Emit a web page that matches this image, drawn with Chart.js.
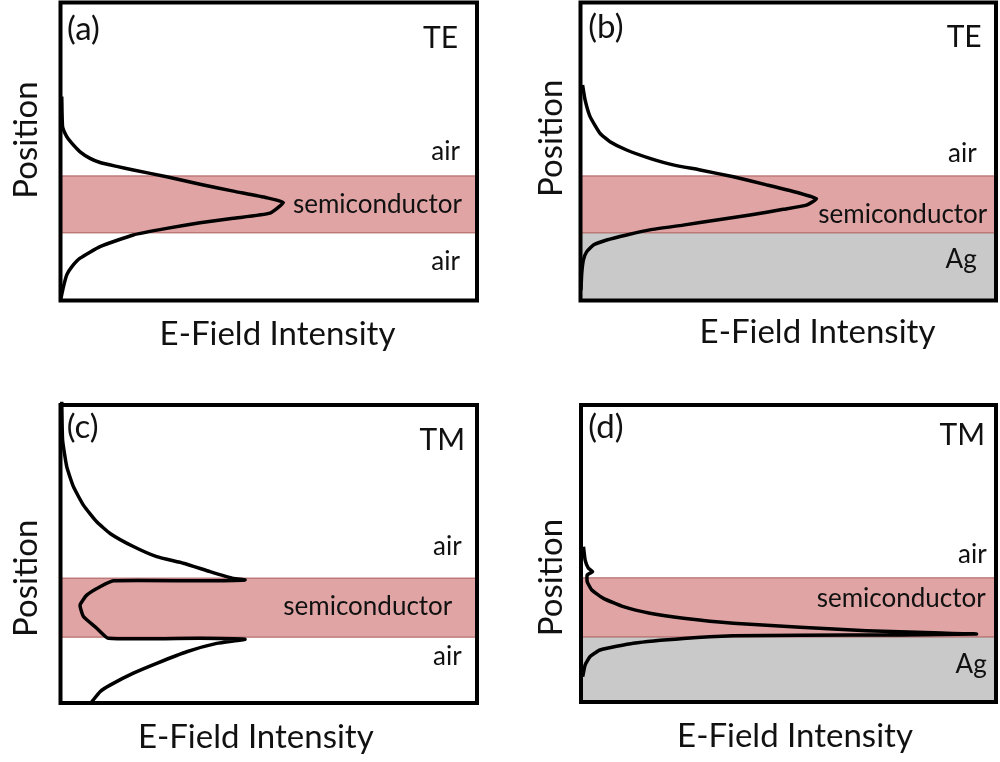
<!DOCTYPE html>
<html>
<head>
<meta charset="utf-8">
<title>E-field profiles</title>
<script src="https://cdn.jsdelivr.net/npm/chart.js@4/dist/chart.umd.min.js"></script>
<style>
  html, body { margin: 0; padding: 0; background: #fff; }
  #wrap { position: relative; width: 1000px; height: 762px; overflow: hidden; }
  #wrap canvas { position: absolute; }
</style>
</head>
<body>
<div id="wrap">
  <canvas id="pa" width="500" height="381" style="left:0;top:0"></canvas>
  <canvas id="pb" width="500" height="381" style="left:500px;top:0"></canvas>
  <canvas id="pc" width="500" height="381" style="left:0;top:381px"></canvas>
  <canvas id="pd" width="500" height="381" style="left:500px;top:381px"></canvas>
</div>
<script>
// ---- Data: position (0 = bottom of stack, 100 = top) vs. relative field intensity ----

// (a) TE, semiconductor slab in air
const posA = [68.4, 58.3, 55.0, 52.8, 49.9, 47.7, 46.3, 45.0, 43.8, 41.5, 39.0, 36.7, 34.5, 32.9,
              29.3, 27.6, 26.1, 24.2, 22.0, 18.1, 14.2, 11.3, 8.6, 4.6, 0.7];
const intA = [0.3, 0.5, 1.5, 2.7, 4.7, 7.1, 9.5, 13.5, 17.5, 25.5, 33.5, 41.5, 49.5, 53.5,
              50.3, 41.5, 33.5, 25.5, 17.5, 9.5, 4.7, 2.7, 1.5, 0.7, 0.1];

// (b) TE, semiconductor slab on Ag
const posB = [72.3, 67.3, 61.7, 56.1, 53.3, 50.5, 47.7, 45.5, 43.8, 41.5, 38.8, 36.0, 34.1,
              32.0, 30.6, 28.7, 27.0, 25.3, 23.7, 22.0, 20.3, 18.6, 16.4, 13.6, 9.1, 3.5];
const intB = [0.5, 1.1, 2.3, 4.7, 7.1, 11.1, 16.7, 22.3, 28.8, 36.8, 44.8, 52.8, 56.8,
              54.4, 48.8, 40.8, 32.8, 24.7, 16.7, 11.1, 6.3, 3.1, 1.5, 0.7, 0.3, 0.1];

// (c) TM, semiconductor slab in air
const posC = [101.1, 88.3, 79.3, 72.6, 66.4, 60.8, 56.9, 52.5, 49.1, 46.9, 44.1, 41.8, 41.3,
              41.0, 41.0, 39.0, 36.2, 32.9, 29.0, 25.1, 21.7, 21.7, 21.4,
              20.0, 17.2, 13.3, 10.0, 6.0, 3.8, 0.4];
const intC = [0.3, 0.5, 1.5, 3.1, 5.5, 8.7, 11.9, 17.5, 23.1, 29.5, 35.9, 41.5, 44.3,
              33.5, 12.7, 9.5, 6.3, 4.7, 5.5, 8.7, 11.5, 33.5, 44.3,
              37.5, 30.3, 23.1, 17.5, 11.9, 9.5, 7.5];

// (d) TM, semiconductor slab on Ag (surface plasmon at the metal interface)
const posD = [52.3, 47.8, 45.0, 43.9, 42.8, 40.5, 37.7, 34.9, 32.1, 29.9, 28.2, 26.5, 25.2,
              24.0, 23.3, 22.9, 22.6, 22.5, 22.3, 21.4, 19.8, 17.5, 15.3, 12.5, 8.5];
const intD = [0.6, 1.0, 1.8, 2.8, 1.5, 1.5, 2.6, 5.4, 10.2, 16.6, 24.7, 36.7, 52.8,
              68.8, 84.9, 95.3, 76.9, 52.8, 36.7, 24.7, 12.6, 4.6, 2.2, 1.0, 0.4];

// Layer stacks (bottom to top) and their boundaries in position units
const stackAir = ['air', 'semiconductor', 'air'];
const stackAg  = ['Ag', 'semiconductor', 'air'];
const boundsA = [0, 22.7, 41.8, 100];
const boundsB = [0, 22.7, 41.8, 100];
const boundsC = [0, 22.1, 41.9, 100];
const boundsD = [0, 21.9, 41.8, 100];

const panelTags = ['(a)', '(b)', '(c)', '(d)'];
const modeNames = ['TE', 'TE', 'TM', 'TM'];
const xTitle = 'E-Field Intensity';
const yTitle = 'Position';

// ---- Styling ----
const FONT = 'Lato, "Open Sans", sans-serif';
const TEXT = '#111111';
const layerFill = { air: null, semiconductor: '#e0a4a4', Ag: '#c9c9c9' };
const layerEdge = { semiconductor: '#a85a5a' };

// Per-panel layout in canvas pixels
const LAYOUT = [
  { pad: { left: 60.5, top: 2.5, right: 23, bottom: 80.5 },
    tag: [67, 40], mode: [458, 48],
    regions: [[460, 270, 'right'], [293, 213, 'left'], [460, 160, 'right']],
    yt: [36.7, 140], xt: [277.5, 345] },
  { pad: { left: 80.5, top: 2.5, right: 4, bottom: 80.5 },
    tag: [88.3, 38], mode: [481.7, 46.7],
    regions: [[476.7, 268.3, 'right'], [318.3, 223.3, 'left'], [476.7, 161.7, 'right']],
    yt: [61.7, 138.3], xt: [317.5, 343.3] },
  { pad: { left: 60.5, top: 24, right: 23, bottom: 59 },
    tag: [66.7, 57], mode: [465, 69],
    regions: [[461.7, 284, 'right'], [283.3, 234, 'left'], [461.7, 174, 'right']],
    yt: [36.7, 197.3], xt: [255.8, 367.3] },
  { pad: { left: 81, top: 24, right: 4, bottom: 60 },
    tag: [88.3, 57], mode: [485, 64],
    regions: [[486.7, 292.3, 'right'], [316.7, 225.7, 'left'], [486.7, 182.3, 'right']],
    yt: [61.7, 196.5], xt: [295, 365.7] }
];

// Layer bands, frame and labels for one panel
const panelDecor = {
  id: 'panelDecor',
  beforeDatasetsDraw(chart, args, o) {
    const { ctx, chartArea: a, scales: { y } } = chart;
    ctx.save();
    o.stack.forEach((name, i) => {
      const fill = layerFill[name];
      if (!fill) return;
      const top = y.getPixelForValue(o.bounds[i + 1]);
      const bot = y.getPixelForValue(o.bounds[i]);
      ctx.fillStyle = fill;
      ctx.fillRect(a.left, top, a.width, bot - top);
      const edge = layerEdge[name];
      if (edge) {
        ctx.strokeStyle = edge;
        ctx.lineWidth = 1;
        ctx.beginPath();
        ctx.moveTo(a.left, top); ctx.lineTo(a.right, top);
        ctx.moveTo(a.left, bot); ctx.lineTo(a.right, bot);
        ctx.stroke();
      }
    });
    ctx.restore();
  },
  afterDatasetsDraw(chart, args, o) {
    const { ctx, chartArea: a } = chart;
    const L = o.layout;
    ctx.save();
    ctx.strokeStyle = '#000';
    ctx.lineWidth = 4;
    ctx.lineJoin = 'miter';
    ctx.strokeRect(a.left, a.top, a.width, a.height);

    ctx.fillStyle = TEXT;
    ctx.textBaseline = 'alphabetic';
    ctx.font = '33px ' + FONT;
    ctx.textAlign = 'left';
    ctx.fillText(o.tag, L.tag[0], L.tag[1]);
    ctx.font = '30px ' + FONT;
    ctx.textAlign = 'right';
    ctx.fillText(o.mode, L.mode[0], L.mode[1]);

    ctx.font = '26px ' + FONT;
    o.stack.forEach((name, i) => {
      const [x, yy, al] = L.regions[i];
      ctx.textAlign = al;
      ctx.fillText(name, x, yy);
    });

    ctx.font = '33px ' + FONT;
    ctx.textAlign = 'center';
    ctx.fillText(xTitle, L.xt[0], L.xt[1]);
    ctx.save();
    ctx.translate(L.yt[0], L.yt[1]);
    ctx.rotate(-Math.PI / 2);
    ctx.fillText(yTitle, 0, 0);
    ctx.restore();
    ctx.restore();
  }
};

function makePanel(id, idx, pos, inten, stack, bounds) {
  const pts = pos.map((p, i) => ({ x: inten[i], y: p }));
  return new Chart(document.getElementById(id), {
    type: 'scatter',
    data: {
      datasets: [{
        data: pts,
        showLine: true,
        borderColor: '#000',
        borderWidth: 3.5,
        pointRadius: 0,
        tension: 0.15,
        clip: false
      }]
    },
    options: {
      responsive: false,
      animation: false,
      events: [],
      layout: { padding: LAYOUT[idx].pad },
      scales: {
        x: { type: 'linear', min: 0, max: 100, display: false },
        y: { type: 'linear', min: 0, max: 100, display: false }
      },
      plugins: {
        legend: { display: false },
        tooltip: { enabled: false },
        panelDecor: {
          layout: LAYOUT[idx],
          tag: panelTags[idx],
          mode: modeNames[idx],
          stack: stack,
          bounds: bounds
        }
      }
    },
    plugins: [panelDecor]
  });
}

makePanel('pa', 0, posA, intA, stackAir, boundsA);
makePanel('pb', 1, posB, intB, stackAg, boundsB);
makePanel('pc', 2, posC, intC, stackAir, boundsC);
makePanel('pd', 3, posD, intD, stackAg, boundsD);
</script>
</body>
</html>
